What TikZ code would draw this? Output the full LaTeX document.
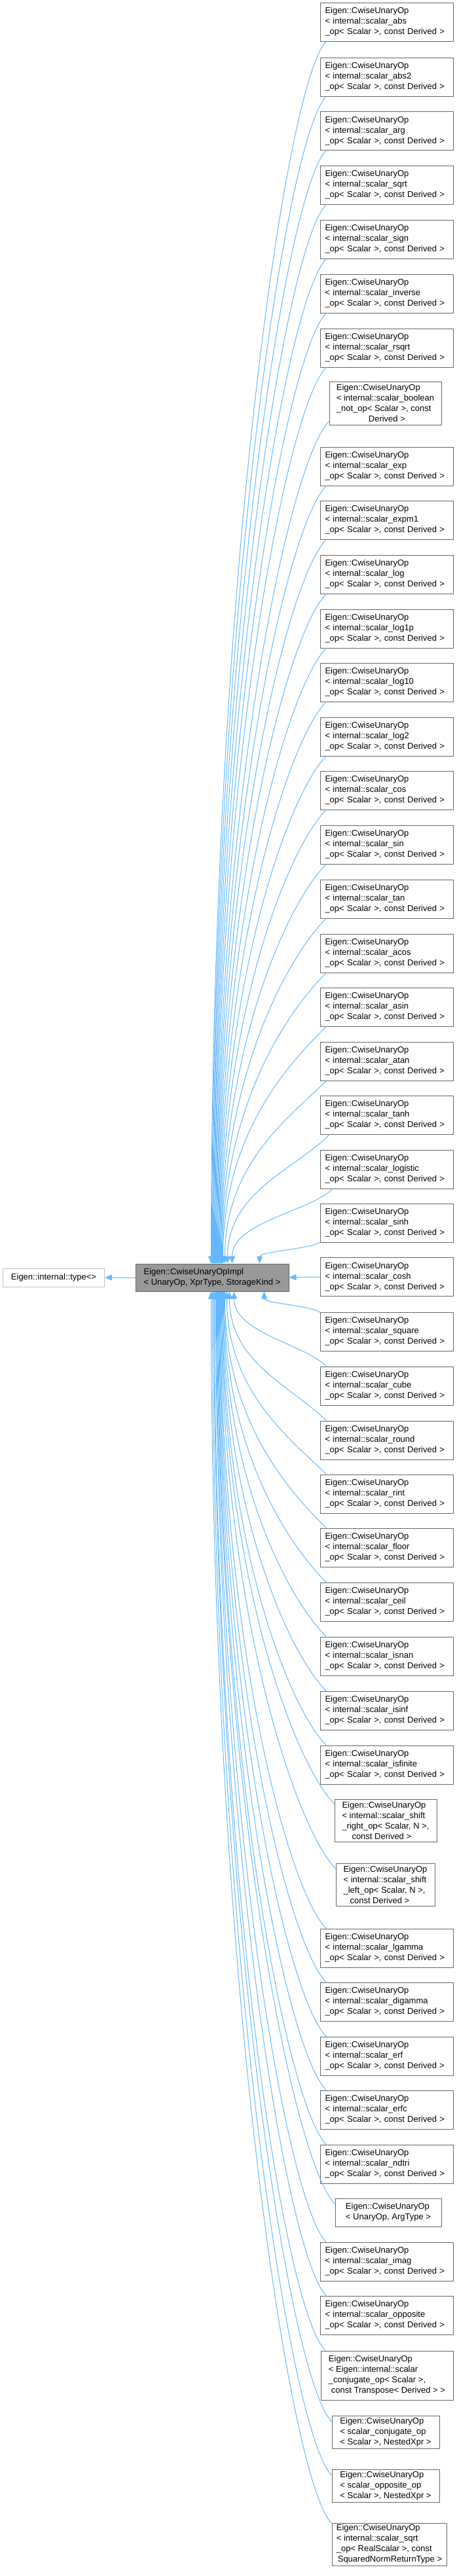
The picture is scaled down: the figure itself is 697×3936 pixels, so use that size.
\documentclass[tikz,border=0pt]{standalone}
\usepackage{fontspec}
\setmainfont{Liberation Sans}
\usepackage{xcolor}
\usepackage{tikz}
\usetikzlibrary{arrows.meta}

\definecolor{inhblue}{HTML}{63B8FF}
\definecolor{boxline}{HTML}{666666}
\definecolor{extline}{HTML}{BFBFBF}
\definecolor{basefill}{HTML}{999999}

\newcommand{\unaryop}[1]{Eigen::CwiseUnaryOp\\< internal::scalar\_#1\\\_op< Scalar >, const Derived >}

\tikzset{
  cls/.style={draw=boxline, line width=1pt, fill=white, align=left, inner sep=0pt,
              font=\fontsize{13}{16}\selectfont},
  opcls/.style={cls, text width=188pt, inner xsep=7.5pt, minimum width=203pt, minimum height=59pt},
  implcls/.style={cls, fill=basefill, minimum width=234pt, minimum height=42pt},
  extcls/.style={cls, draw=extline, minimum width=155pt, minimum height=28pt},
  inh/.style={draw=inhblue, line width=1pt, -{Triangle[length=11pt, width=9pt]}}
}

\begin{document}
\begin{tikzpicture}[x=1pt, y=-1pt]
  \useasboundingbox (0,0) rectangle (697,3936);

  \node[implcls] (impl) at (324,1952) {Eigen::CwiseUnaryOpImpl\\< UnaryOp, XprType, StorageKind >};
  \node[extcls] (type) at (82,1952) {Eigen::internal::type<>};
  \draw[inh] (impl) -- (type);

  % derived classes above the base
  \foreach \nm/\cy/\ang/\dx in {abs/33.5/198/116, abs2/117.5/198/117, arg/200/198/118,
      sqrt/282.5/198/119, sign/365.5/198/120, inverse/448.5/198/121, rsqrt/531.5/198/122,
      exp/712.5/198/124, expm1/794.5/198/125, log/877.5/198/126, log1p/960.5/198/127,
      log10/1042.5/198/128, log2/1125.5/198/129, cos/1207.5/198/130, sin/1290.5/198/131,
      tan/1373.5/198/132, acos/1456.5/198/133, asin/1538.5/198/134, atan/1621.5/198/137,
      tanh/1703.5/199/141, logistic/1786.5/200/148, sinh/1868.5/196/190} {
    \node[opcls] (\nm) at (590.5,\cy) {\unaryop{\nm}};
    \pgfmathsetmacro\dist{1931-\cy-29.5}
    \pgfmathsetmacro\ctl{min(0.35*(293-\dx),0.3*\dist)}
    \pgfmathsetmacro\rise{0.55*\dist}
    \draw[inh] (\nm.\ang) .. controls +(-\ctl,\ctl) and +(0,-\rise) .. ([xshift=\dx pt]impl.north west);
  }

  \node[cls, minimum width=171pt, minimum height=66pt] (boolnot) at (588.5,616)
    {Eigen::CwiseUnaryOp\\< internal::scalar\_boolean\\\_not\_op< Scalar >, const\\\hspace*{49pt}Derived >};
  \draw[inh] (boolnot.198) .. controls +(-60,60) and +(0,-708) .. ([xshift=123pt]impl.north west);

  \node[opcls] (cosh) at (590.5,1951) {\unaryop{cosh}};
  \draw[inh] (cosh) -- (impl);

  % derived classes below the base
  \foreach \nm/\cy/\ang/\dx in {square/2034.5/164/197, cube/2117.5/162/151, round/2200.5/162/144,
      rint/2282.5/162/140, floor/2364.5/162/137, ceil/2447.5/162/136, isnan/2530.5/162/135,
      isinf/2613.5/162/134, isfinite/2696.5/162/133, lgamma/2976.5/162/130,
      digamma/3058.5/162/129, erf/3141.5/162/128, erfc/3223.5/162/127, ndtri/3306.5/162/126,
      imag/3455.5/162/124, opposite/3537.5/162/123} {
    \node[opcls] (\nm) at (590.5,\cy) {\unaryop{\nm}};
    \pgfmathsetmacro\dist{\cy-29.5-1973}
    \pgfmathsetmacro\ctl{min(0.35*(293-\dx),0.3*\dist)}
    \pgfmathsetmacro\rise{0.55*\dist}
    \draw[inh] (\nm.\ang) .. controls +(-\ctl,-\ctl) and +(0,\rise) .. ([xshift=\dx pt]impl.south west);
  }

  \node[cls, minimum width=156pt, minimum height=65pt] (shiftr) at (589,2781.5)
    {Eigen::CwiseUnaryOp\\< internal::scalar\_shift\\\_right\_op< Scalar, N >,\\\hspace*{15pt}const Derived >};
  \node[cls, minimum width=151pt, minimum height=65pt] (shiftl) at (588.5,2879.5)
    {Eigen::CwiseUnaryOp\\< internal::scalar\_shift\\\_left\_op< Scalar, N >,\\\hspace*{10pt}const Derived >};
  \node[cls, minimum width=162pt, minimum height=43pt] (argtype) at (593,3380.5)
    {Eigen::CwiseUnaryOp\\< UnaryOp, ArgType >};
  \node[cls, minimum width=202pt, minimum height=75pt] (conjeig) at (591,3629.5)
    {Eigen::CwiseUnaryOp\\< Eigen::internal::scalar\\\_conjugate\_op< Scalar >,\\\hspace*{4pt}const Transpose< Derived > >};
  \node[cls, minimum width=164pt, minimum height=50pt] (conjop) at (589,3716)
    {Eigen::CwiseUnaryOp\\< scalar\_conjugate\_op\\< Scalar >, NestedXpr >};
  \node[cls, minimum width=164pt, minimum height=50pt] (oppop) at (589,3798)
    {Eigen::CwiseUnaryOp\\< scalar\_opposite\_op\\< Scalar >, NestedXpr >};
  \node[cls, minimum width=175pt, minimum height=65pt] (normsqrt) at (594.5,3887.5)
    {Eigen::CwiseUnaryOp\\< internal::scalar\_sqrt\\\_op< RealScalar >, const\\\hspace*{2pt}SquaredNormReturnType >};

  \foreach \nm/\ang/\dx/\dist in {shiftr/162/132/783, shiftl/162/131/882, argtype/171/125/1395,
      conjeig/158/121/1619, conjop/169/120/1727, oppop/169/118/1809, normsqrt/160/116/1882} {
    \pgfmathsetmacro\ctl{min(0.35*(303-\dx),0.3*\dist)}
    \pgfmathsetmacro\rise{0.55*\dist}
    \draw[inh] (\nm.\ang) .. controls +(-\ctl,-\ctl) and +(0,\rise) .. ([xshift=\dx pt]impl.south west);
  }
\end{tikzpicture}
\end{document}
